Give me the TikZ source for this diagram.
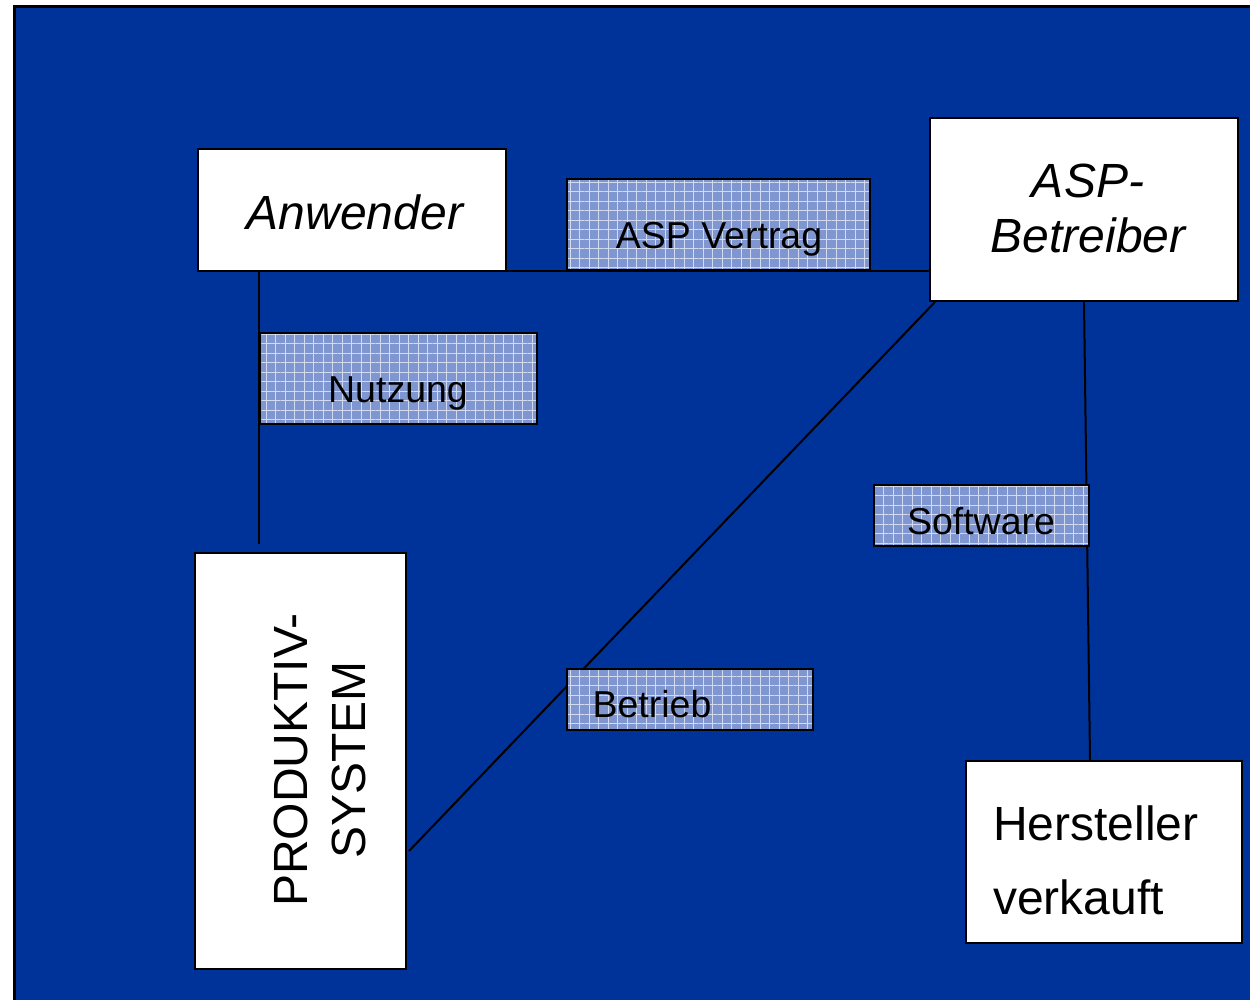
\documentclass[tikz,border=0pt]{standalone}
\usepackage{fontspec}
\setmainfont{Liberation Sans}
\usetikzlibrary{patterns.meta,calc}
\definecolor{bg}{HTML}{003399}
\definecolor{hatchfill}{HTML}{7F96D0}
\begin{document}
\begin{tikzpicture}[x=1pt,y=-1pt,
  box/.style={draw=black, line width=2pt, fill=white, inner sep=0pt},
  hbox/.style={draw=black, line width=2pt, inner sep=0pt, preaction={fill=hatchfill},
    pattern={Hatch[angle=0,distance=9.5pt,line width=0.8pt]}, pattern color=white!65!hatchfill},
  conn/.style={draw=black, line width=2pt},
  big/.style={font=\fontsize{48}{55}\selectfont, inner sep=0pt, anchor=base},
  small/.style={font=\fontsize{37.5}{44}\selectfont, inner sep=0pt, anchor=base}]
\useasboundingbox (0,0) rectangle (1250,999);
\fill[white] (0,0) rectangle (1250,999);
\draw[fill=bg, line width=3pt] (14.5,6.5) rectangle (1262,1012);

% main boxes
\node[box, minimum width=308pt, minimum height=122pt] (anw) at (352,210) {};
\node[box, minimum width=308pt, minimum height=183pt] (asp) at (1084,209.5) {};
\node[box, minimum width=211pt, minimum height=416pt] (prod) at (300.5,761) {};
\node[box, minimum width=276pt, minimum height=182pt] (herst) at (1104,852) {};

% connectors
\draw[conn] ($(anw.south east)+(-6,-1)$) -- ($(anw.south east -| asp.west)+(0,-1)$);
\draw[conn] ($(anw.south west)+(62,0)$) -- ($(anw.south west |- prod.north)+(62,-8)$);
\draw[conn] ($(asp.south west)+(6,0)$) -- ($(prod.east)+(2,90)$);
\draw[conn] (asp.south) -- ($(herst.north)+(-14,0)$);

% label boxes
\node[hbox, minimum width=303pt, minimum height=91pt] (vert) at (718.5,224.5) {};
\node[hbox, minimum width=277pt, minimum height=91pt] (nutz) at (398.5,378.5) {};
\node[hbox, minimum width=215pt, minimum height=61pt] (soft) at (981.5,515.5) {};
\node[hbox, minimum width=246pt, minimum height=61pt] (betr) at (690,699.5) {};

% texts
\node[big] (tanw) at (355,229) {\itshape Anwender};
\node[big] (tasp1) at (1088,197) {\itshape ASP-};
\node[big] (tasp2) at (1088,252) {\itshape Betreiber};
\node[big, rotate=90] (tprod1) at (307,760) {PRODUKTIV-};
\node[big, rotate=90] (tprod2) at (365,760) {SYSTEM};
\node[big, anchor=base west] (th1) at (993,840) {Hersteller};
\node[big, anchor=base west] (th2) at (993,914) {verkauft};
\node[small] (tvert) at (719,248) {ASP Vertrag};
\node[small] (tnutz) at (398,402) {Nutzung};
\node[small] (tsoft) at (981,534) {Software};
\node[small] (tbetr) at (652,717) {Betrieb};
\end{tikzpicture}
\end{document}
